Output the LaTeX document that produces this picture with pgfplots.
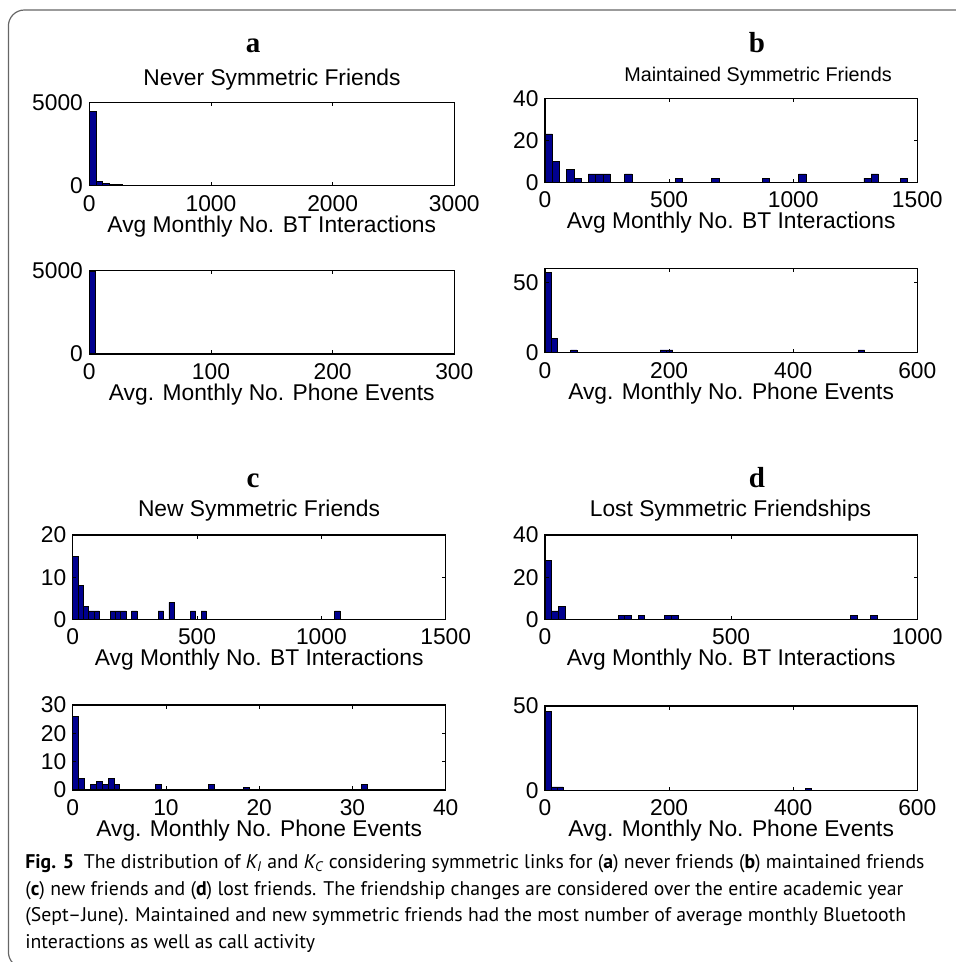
\documentclass[border=0pt]{standalone}
\usepackage{fontspec}
\setmainfont{Liberation Sans}
\newfontfamily\capfont{PT Sans}
\newfontfamily\letterfont{Liberation Serif}
\usepackage{pgfplots}
\pgfplotsset{compat=1.18}
\definecolor{barblue}{RGB}{0,0,143}
\newcommand\mfont{\fontsize{11.4}{13.7}\selectfont}
\newcommand\lfont{\letterfont\bfseries\fontsize{14.5}{16}\selectfont}
\newsavebox\capbox
\newlength\capw
\pgfplotsset{
  hist/.style={
    scale only axis,
    anchor=north west,
    axis on top,
    axis line style={line width=0.6pt},
    tick align=inside,
    tick pos=both,
    major tick length=1.8pt,
    every tick/.style={black, line width=0.4pt},
    scaled ticks=false,
    /pgf/number format/1000 sep={},
    /pgf/number format/assume math mode=true,
    tick label style={font=\mfont},
    xticklabel style={inner sep=0pt, anchor=north, yshift=-4.6pt},
    yticklabel style={inner sep=0pt, anchor=east, xshift=-3pt},
    x label style={font=\mfont, at={(axis description cs:0.5,0)}, anchor=base, yshift=-23.25pt, inner sep=0pt},
  },
  bars/.style={ybar interval, fill=barblue, draw=black, line width=0.35pt},
}
\begin{document}
\sbox\capbox{\capfont\fontsize{10}{12}\selectfont interactions as well as call activity}%
\setlength\capw{\wd\capbox}%
\pgfmathsetmacro\capsize{10*144.9/\capw}%
\newcommand\cf{\capfont\fontsize{\capsize}{\capsize}\selectfont}%
\begin{tikzpicture}
\useasboundingbox (0,0) rectangle (478pt,-481pt);
\begin{scope}
\clip (0,0) rectangle (478pt,-481pt);
\draw[black!60, line width=0.6pt, rounded corners=8pt] (4.2pt,-5pt) rectangle (500pt,-484pt);
\end{scope}

% letters and titles
\node[anchor=base, font=\lfont, inner sep=0pt] at (126.5pt,-26.15pt) {a};
\node[anchor=base, font=\lfont, inner sep=0pt] at (378.5pt,-26.15pt) {b};
\node[anchor=base, font=\lfont, inner sep=0pt] at (126.5pt,-243.5pt) {c};
\node[anchor=base, font=\lfont, inner sep=0pt] at (378.5pt,-243.75pt) {d};
\node[anchor=base, font=\mfont, inner sep=0pt] at (136pt,-43pt) {Never Symmetric Friends};
\node[anchor=base, font=\fontsize{9.9}{12}\selectfont, inner sep=0pt] at (379pt,-40.85pt) {Maintained Symmetric Friends};
\node[anchor=base, font=\mfont, inner sep=0pt] at (129.5pt,-258.35pt) {New Symmetric Friends};
\node[anchor=base, font=\mfont, inner sep=0pt] at (365.25pt,-258.35pt) {Lost Symmetric Friendships};

% a: BT
\begin{axis}[hist, at={(44.65pt,-51.35pt)}, width=182.5pt, height=41.5pt,
  xmin=0, xmax=3000, ymin=0, ymax=5000, xtick={0,1000,2000,3000}, ytick={0,5000},
  xlabel={Avg Monthly No. BT Interactions}]
\addplot[bars] coordinates {(0,4480)(54,250)(108,140)(162,100)(216,70)(270,40)(324,30)(378,25)(432,20)(486,16)(540,14)(594,12)(648,10)(702,9)(756,8)(810,7)(864,6)(918,6)(972,5)(1026,5)(1080,4)(1134,4)(1188,3)(1242,4)(1296,3)(1350,3)(1404,2)(1458,3)(1512,2)(1566,2)(1620,2)(1674,1)(1728,2)(1782,1)(1836,1)(1890,1)(1944,1)(1998,0)(2052,1)(2106,0)(2160,1)(2214,0)(2268,0)(2322,0)(2376,0)(2430,0)(2484,0)(2538,0)(2592,2)(2646,1)(2700,0)};
\end{axis}
% a: phone
\begin{axis}[hist, at={(44.65pt,-135.35pt)}, width=182.5pt, height=41.65pt,
  xmin=0, xmax=300, ymin=0, ymax=5000, xtick={0,100,200,300}, ytick={0,5000},
  xlabel={Avg. Monthly No. Phone Events}]
\addplot[bars] coordinates {(0,4980)(4.9,20)(9.8,15)(14.7,10)(19.6,6)(24.5,4)(29.4,3)(34.3,3)(39.2,2)(44.1,8)(49,3)(53.9,2)(58.8,1)(63.7,1)(68.6,1)(73.5,1)(78.4,1)(83.3,0)(88.2,1)(93.1,0)(98,1)(102.9,0)(107.8,0)(112.7,1)(117.6,0)(122.5,0)(127.4,0)(132.3,0)(137.2,0)(142.1,0)(147,0)(151.9,0)(156.8,0)(161.7,0)(166.6,0)(171.5,0)(176.4,0)(181.3,0)(186.2,0)(191.1,0)(196,4)(200.9,0)(205.8,0)(210.7,0)(215.6,0)(220.5,0)(225.4,0)(230.3,0)(235.2,3)(240.1,1)(245,0)};
\end{axis}

% b: BT
\begin{axis}[hist, at={(272.5pt,-49.15pt)}, width=186.15pt, height=42pt,
  xmin=0, xmax=1500, ymin=0, ymax=40, xtick={0,500,1000,1500}, ytick={0,20,40},
  xlabel={Avg Monthly No. BT Interactions}]
\addplot[bars] coordinates {(0,23)(29.2,10)(58.4,0)(87.6,6)(116.8,2)(146,0)(175.2,4)(204.4,4)(233.6,4)(262.8,0)(292,0)(321.2,4)(350.4,0)(379.6,0)(408.8,0)(438,0)(467.2,0)(496.4,0)(525.6,2)(554.8,0)(584,0)(613.2,0)(642.4,0)(671.6,2)(700.8,0)(730,0)(759.2,0)(788.4,0)(817.6,0)(846.8,0)(876,2)(905.2,0)(934.4,0)(963.6,0)(992.8,0)(1022,4)(1051.2,0)(1080.4,0)(1109.6,0)(1138.8,0)(1168,0)(1197.2,0)(1226.4,0)(1255.6,0)(1284.8,2)(1314,4)(1343.2,0)(1372.4,0)(1401.6,0)(1430.8,2)(1460,0)};
\end{axis}
% b: phone
\begin{axis}[hist, at={(272.5pt,-134.15pt)}, width=186.15pt, height=42.2pt,
  xmin=0, xmax=600, ymin=0, ymax=60, xtick={0,200,400,600}, ytick={0,50},
  xlabel={Avg. Monthly No. Phone Events}]
\addplot[bars] coordinates {(0,57)(10.3,10)(20.6,0)(30.9,0)(41.2,2)(51.5,0)(61.8,0)(72.1,0)(82.4,0)(92.7,0)(103,0)(113.3,0)(123.6,0)(133.9,0)(144.2,0)(154.5,0)(164.8,0)(175.1,0)(185.4,2)(195.7,2)(206,0)(216.3,0)(226.6,0)(236.9,0)(247.2,0)(257.5,0)(267.8,0)(278.1,0)(288.4,0)(298.7,0)(309,0)(319.3,0)(329.6,0)(339.9,0)(350.2,0)(360.5,0)(370.8,0)(381.1,0)(391.4,0)(401.7,0)(412,0)(422.3,0)(432.6,0)(442.9,0)(453.2,0)(463.5,0)(473.8,0)(484.1,0)(494.4,0)(504.7,2)(515,0)};
\end{axis}

% c: BT
\begin{axis}[hist, at={(36.35pt,-267.5pt)}, width=186.5pt, height=42.15pt,
  xmin=0, xmax=1500, ymin=0, ymax=20, xtick={0,500,1000,1500}, ytick={0,10,20},
  xlabel={Avg Monthly No. BT Interactions}]
\addplot[bars] coordinates {(0,15)(21.5,8)(43,3)(64.5,2)(86,2)(107.5,0)(129,0)(150.5,2)(172,2)(193.5,2)(215,0)(236.5,2)(258,0)(279.5,0)(301,0)(322.5,0)(344,2)(365.5,0)(387,4)(408.5,0)(430,0)(451.5,0)(473,2)(494.5,0)(516,2)(537.5,0)(559,0)(580.5,0)(602,0)(623.5,0)(645,0)(666.5,0)(688,0)(709.5,0)(731,0)(752.5,0)(774,0)(795.5,0)(817,0)(838.5,0)(860,0)(881.5,0)(903,0)(924.5,0)(946,0)(967.5,0)(989,0)(1010.5,0)(1032,0)(1053.5,2)(1075,0)};
\end{axis}
% c: phone
\begin{axis}[hist, at={(36.35pt,-352.5pt)}, width=186.5pt, height=42.5pt,
  xmin=0, xmax=40, ymin=0, ymax=30, xtick={0,10,20,30,40}, ytick={0,10,20,30},
  xlabel={Avg. Monthly No. Phone Events}]
\addplot[bars] coordinates {(0,26)(0.632,4)(1.264,0)(1.896,2)(2.528,3)(3.16,2)(3.792,4)(4.424,2)(5.056,0)(5.688,0)(6.32,0)(6.952,0)(7.584,0)(8.216,0)(8.848,2)(9.48,0)(10.112,0)(10.744,0)(11.376,0)(12.008,0)(12.64,0)(13.272,0)(13.904,0)(14.536,2)(15.168,0)(15.8,0)(16.432,0)(17.064,0)(17.696,0)(18.328,1)(18.96,0)(19.592,0)(20.224,0)(20.856,0)(21.488,0)(22.12,0)(22.752,0)(23.384,0)(24.016,0)(24.648,0)(25.28,0)(25.912,0)(26.544,0)(27.176,0)(27.808,0)(28.44,0)(29.072,0)(29.704,0)(30.336,0)(30.968,2)(31.6,0)};
\end{axis}

% d: BT
\begin{axis}[hist, at={(272.5pt,-267.5pt)}, width=186.15pt, height=42.15pt,
  xmin=0, xmax=1000, ymin=0, ymax=40, xtick={0,500,1000}, ytick={0,20,40},
  xlabel={Avg Monthly No. BT Interactions}]
\addplot[bars] coordinates {(0,28)(17.85,4)(35.7,6)(53.55,0)(71.4,0)(89.25,0)(107.1,0)(124.95,0)(142.8,0)(160.65,0)(178.5,0)(196.35,2)(214.2,2)(232.05,0)(249.9,2)(267.75,0)(285.6,0)(303.45,0)(321.3,2)(339.15,2)(357,0)(374.85,0)(392.7,0)(410.55,0)(428.4,0)(446.25,0)(464.1,0)(481.95,0)(499.8,0)(517.65,0)(535.5,0)(553.35,0)(571.2,0)(589.05,0)(606.9,0)(624.75,0)(642.6,0)(660.45,0)(678.3,0)(696.15,0)(714,0)(731.85,0)(749.7,0)(767.55,0)(785.4,0)(803.25,0)(821.1,2)(838.95,0)(856.8,0)(874.65,2)(892.5,0)};
\end{axis}
% d: phone
\begin{axis}[hist, at={(272.5pt,-353pt)}, width=186.15pt, height=42.15pt,
  xmin=0, xmax=600, ymin=0, ymax=50, xtick={0,200,400,600}, ytick={0,50},
  xlabel={Avg. Monthly No. Phone Events}]
\addplot[bars] coordinates {(0,47)(9.75,2)(19.5,2)(29.25,0)(39,0)(48.75,0)(58.5,0)(68.25,0)(78,0)(87.75,0)(97.5,0)(107.25,0)(117,0)(126.75,0)(136.5,0)(146.25,0)(156,0)(165.75,0)(175.5,0)(185.25,0)(195,0)(204.75,0)(214.5,0)(224.25,0)(234,0)(243.75,0)(253.5,0)(263.25,0)(273,0)(282.75,0)(292.5,0)(302.25,0)(312,0)(321.75,0)(331.5,0)(341.25,0)(351,0)(360.75,0)(370.5,0)(380.25,0)(390,0)(399.75,0)(409.5,0)(419.25,1)(429,0)};
\end{axis}

% caption
\node[anchor=base west, inner sep=0pt, font=\cf] at (12.5pt,-434.15pt) {\textbf{Fig. 5}\enspace The distribution of {\itshape K}\textsubscript{\itshape I} and {\itshape K}\textsubscript{\itshape C} considering symmetric links for (\textbf{a}) never friends (\textbf{b}) maintained friends};
\node[anchor=base west, inner sep=0pt, font=\cf] at (12.5pt,-447.5pt) {(\textbf{c}) new friends and (\textbf{d}) lost friends. The friendship changes are considered over the entire academic year};
\node[anchor=base west, inner sep=0pt, font=\cf] at (12.5pt,-460.85pt) {(Sept–June). Maintained and new symmetric friends had the most number of average monthly Bluetooth};
\node[anchor=base west, inner sep=0pt, font=\cf] at (12.5pt,-474.15pt) {interactions as well as call activity};
\end{tikzpicture}
\end{document}
